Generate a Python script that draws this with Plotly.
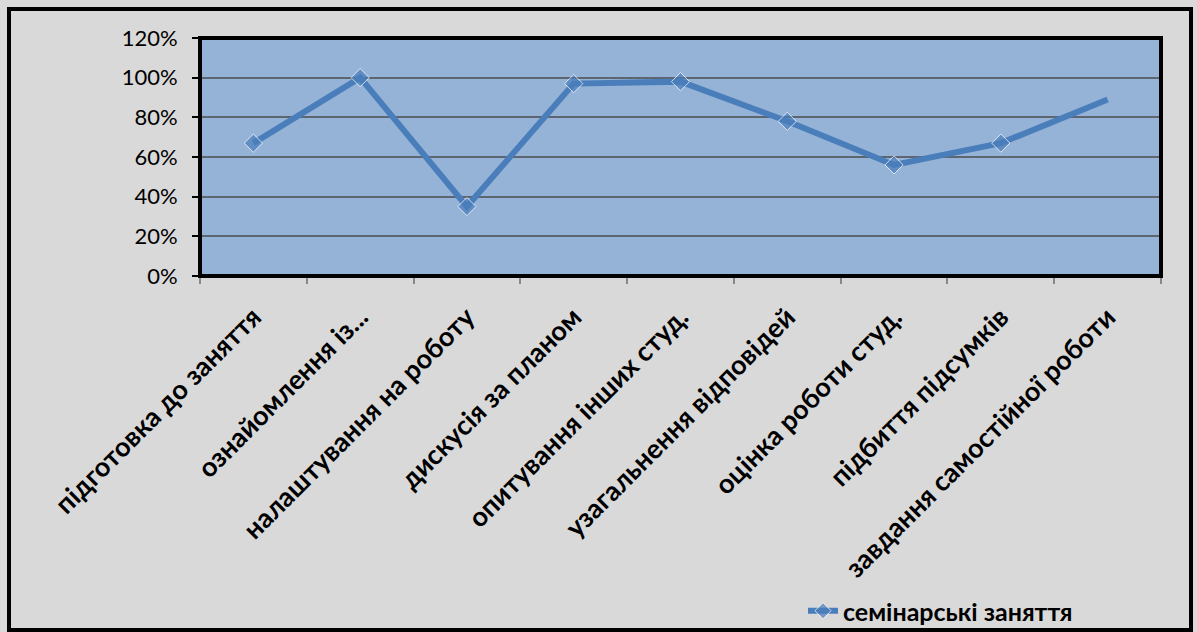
import plotly.graph_objects as go

categories = ["підготовка до заняття", "ознайомлення із...", "налаштування на роботу",
              "дискусія за планом", "опитування інших студ.", "узагальнення відповідей",
              "оцінка роботи студ.", "підбиття підсумків", "завдання самостійної роботи"]
values = [0.67, 1.00, 0.35, 0.97, 0.98, 0.78, 0.56, 0.67, 0.89]
series_name = "семінарські заняття"
y_ticks = [0, 0.2, 0.4, 0.6, 0.8, 1.0, 1.2]
y_tick_labels = ["0%", "20%", "40%", "60%", "80%", "100%", "120%"]

W, H = 1197, 632
L, R, T, B = 200, 1161, 38, 276  # plot area pixels

def px_x(p):
    return (p - L) / (R - L)

def px_y(p):
    return (B - p) / (B - T)

line_color = "#4a7ebb"
marker_sizes = [14] * (len(values) - 1) + [0]

fig = go.Figure()
fig.add_trace(go.Scatter(
    x=categories, y=values, mode="lines+markers", name=series_name,
    line=dict(color=line_color, width=6),
    marker=dict(symbol="diamond", size=marker_sizes, color=line_color),
    showlegend=True,
))

fig.update_layout(
    width=W, height=H,
    margin=dict(l=L, r=W - R, t=T, b=H - B, pad=0, autoexpand=False),
    paper_bgcolor="#d9d9d9",
    plot_bgcolor="#95b3d7",
    font=dict(family="Lato, Calibri, sans-serif", color="black"),
    showlegend=True,
    legend=dict(xref="container", yref="container",
                x=803 / W, y=1 - 611 / H, xanchor="left", yanchor="middle",
                orientation="h", bgcolor="rgba(0,0,0,0)",
                font=dict(size=25, family="Lato, sans-serif", weight="bold")),
    xaxis=dict(
        type="category", tickangle=-45, tickson="boundaries",
        ticks="outside", ticklen=7, tickcolor="#888888", tickwidth=1.5,
        showgrid=False, showline=False, zeroline=False,
        ticklabelstandoff=19, automargin=False,
        tickfont=dict(size=27, family="Lato, sans-serif", weight="bold"),
        range=[-0.5, len(categories) - 0.5],
    ),
    yaxis=dict(
        range=[0, 1.2], tickvals=y_ticks, ticktext=y_tick_labels,
        ticks="outside", ticklen=7, tickcolor="black", tickwidth=2,
        showgrid=True, gridcolor="#5c6570", gridwidth=1.5,
        zeroline=False, showline=False, automargin=False,
        ticklabelstandoff=10,
        tickfont=dict(size=22, family="Lato, sans-serif"),
    ),
    shapes=[
        dict(type="rect", xref="paper", yref="paper", x0=0, x1=1, y0=0, y1=1,
             line=dict(color="black", width=4), layer="above"),
        dict(type="rect", xref="paper", yref="paper",
             x0=px_x(9), x1=px_x(1191), y0=px_y(630), y1=px_y(9),
             line=dict(color="black", width=4), layer="above"),
    ],
)

fig.write_html("out.html")
